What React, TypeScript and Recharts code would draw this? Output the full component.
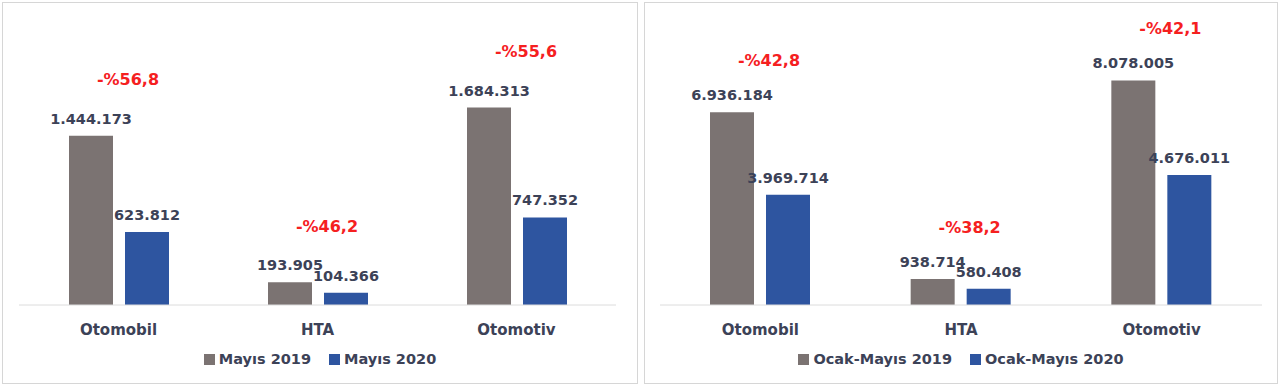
import { Bar, BarChart, LabelList, XAxis, YAxis } from "recharts";

const categories = ["Otomobil", "HTA", "Otomotiv"];

const mayLabels = ["Mayıs 2019", "Mayıs 2020"];
const may2019 = [1444173, 193905, 1684313];
const may2020 = [623812, 104366, 747352];
const mayChange = ["-%56,8", "-%46,2", "-%55,6"];

const ytdLabels = ["Ocak-Mayıs 2019", "Ocak-Mayıs 2020"];
const ytd2019 = [6936184, 938714, 8078005];
const ytd2020 = [3969714, 580408, 4676011];
const ytdChange = ["-%42,8", "-%38,2", "-%42,1"];

const GRAY = "#7b7372";
const BLUE = "#2e55a0";
const TEXT = "#3c4257";
const RED = "#f5201f";
const FONT = "'DejaVu Sans', sans-serif";

const fmt = (v: number) => String(v).replace(/\B(?=(\d{3})+(?!\d))/g, ".");

type PanelProps = {
  left: number;
  width: number;
  names: string[];
  prev: number[];
  curr: number[];
  change: string[];
  yMax: number;
  margin: { top: number; right: number; left: number; bottom: number };
  redLift: number;
};

function CategoryTick(props: any) {
  const { x, y, payload } = props;
  return (
    <text x={x} y={y + 25} dy="0.35em" textAnchor="middle" fill={TEXT} fontSize={15} fontWeight="bold" fontFamily={FONT}>
      {payload.value}
    </text>
  );
}

function Panel({ left, width, names, prev, curr, change, yMax, margin, redLift }: PanelProps) {
  const data = categories.map((name, i) => ({
    name,
    prev: prev[i],
    curr: curr[i],
    change: change[i],
  }));

  const renderChange = (props: any) => {
    const { x, y, width: w, value } = props;
    return (
      <text
        x={Number(x) + Number(w) + 15}
        y={Number(y) - redLift}
        dy="0.35em"
        textAnchor="middle"
        fill={RED}
        fontSize={16}
        fontWeight="bold"
        fontFamily={FONT}
      >
        {value}
      </text>
    );
  };

  return (
    <div
      style={{
        position: "absolute",
        left,
        top: 2,
        width,
        height: 382,
        border: "1px solid #d6d6d6",
        boxSizing: "border-box",
        background: "#fff",
      }}
    >
      <BarChart width={width - 2} height={380} data={data} margin={margin} barSize={44} barGap={12}>
        <XAxis
          dataKey="name"
          axisLine={{ stroke: "#dcdcdc" }}
          tickLine={false}
          tickSize={0}
          tickMargin={0}
          height={30}
          tick={<CategoryTick />}
        />
        <YAxis hide domain={[0, yMax]} />
        <Bar dataKey="prev" fill={GRAY} isAnimationActive={false}>
          <LabelList
            dataKey="prev"
            position="top"
            offset={12}
            formatter={(v: any) => fmt(Number(v))}
            fill={TEXT}
            fontSize={14.5}
            fontWeight="bold"
            fontFamily={FONT}
          />
          <LabelList dataKey="change" content={renderChange} />
        </Bar>
        <Bar dataKey="curr" fill={BLUE} isAnimationActive={false}>
          <LabelList
            dataKey="curr"
            position="top"
            offset={12}
            formatter={(v: any) => fmt(Number(v))}
            fill={TEXT}
            fontSize={14.5}
            fontWeight="bold"
            fontFamily={FONT}
          />
        </Bar>
      </BarChart>
      <div
        style={{
          position: "absolute",
          left: 0,
          right: 0,
          top: 346,
          display: "flex",
          justifyContent: "center",
          gap: 18,
          fontFamily: FONT,
          fontWeight: "bold",
          fontSize: 14.5,
          color: TEXT,
          lineHeight: "20px",
        }}
      >
        {names.map((n, i) => (
          <span key={n} style={{ display: "flex", alignItems: "center", gap: 4 }}>
            <span style={{ width: 11, height: 11, background: i === 0 ? GRAY : BLUE, display: "inline-block" }} />
            {n}
          </span>
        ))}
      </div>
    </div>
  );
}

export default function App() {
  return (
    <div style={{ position: "absolute", left: 0, top: 0, width: 1280, height: 390, background: "#fff" }}>
      <Panel
        left={2}
        width={636}
        names={mayLabels}
        prev={may2019}
        curr={may2020}
        change={mayChange}
        yMax={2500000}
        margin={{ top: 9, right: 21, left: 16, bottom: 48 }}
        redLift={56}
      />
      <Panel
        left={644}
        width={634}
        names={ytdLabels}
        prev={ytd2019}
        curr={ytd2020}
        change={ytdChange}
        yMax={10000000}
        margin={{ top: 24, right: 15, left: 15, bottom: 48 }}
        redLift={52}
      />
    </div>
  );
}
